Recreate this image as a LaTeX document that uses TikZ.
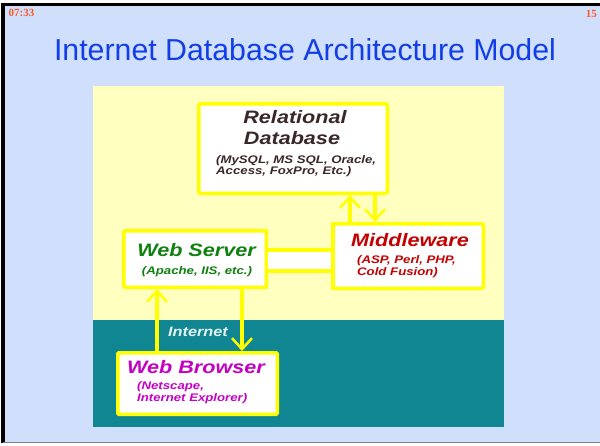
\documentclass[tikz,border=0pt]{standalone}
\usepackage{fontspec}
\setmainfont{Liberation Sans}
\newfontfamily\stampfont{Liberation Serif}
\newfontfamily\boxfont[FakeStretch=1.2]{Liberation Sans}
\usetikzlibrary{arrows.meta}

\definecolor{slidebg}{RGB}{208,224,252}
\definecolor{titleblue}{RGB}{18,62,232}
\definecolor{stamp}{RGB}{255,88,36}
\definecolor{panelyellow}{RGB}{255,255,192}
\definecolor{panelteal}{RGB}{16,134,146}
\definecolor{boxline}{RGB}{255,255,0}
\definecolor{dbtext}{RGB}{58,40,40}
\definecolor{wstext}{RGB}{16,128,16}
\definecolor{mwtext}{RGB}{196,0,0}
\definecolor{wbtext}{RGB}{196,0,196}
\definecolor{nettext}{RGB}{228,242,242}

\tikzset{
  box/.style={draw=boxline, line width=3.5pt, fill=white, inner sep=0pt, rounded corners=1pt},
  boxtitle/.style={font=\boxfont\fontsize{18}{20}\selectfont\bfseries\itshape, inner sep=0pt, anchor=base},
  boxsub/.style={font=\boxfont\fontsize{11}{12}\selectfont\bfseries\itshape, inner sep=0pt},
  link/.style={draw=boxline, line width=3.5pt,
    -{Straight Barb[length=11pt,width=20pt,line width=2.5pt]}},
  pipeline/.style={draw=boxline, line width=3.5pt}
}

\begin{document}
\begin{tikzpicture}[x=1pt,y=-1pt]
\useasboundingbox (0,0) rectangle (600,445);

% slide background and frame
\fill[white] (0,0) rectangle (600,445);
\fill[slidebg] (3,4) rectangle (600,443);
\draw[black, line width=3pt] (1,4.5) -- (600,4.5);
\draw[black, line width=4pt] (3,3) -- (3,443);
\draw[gray, line width=1pt] (3,442.5) -- (600,442.5);

% header stamps and title
\node (time) [font=\stampfont\fontsize{11}{12}\selectfont\bfseries, text=stamp,
  anchor=base west, inner sep=0pt] at (8.5,16.7) {07:33};
\node (page) [font=\stampfont\fontsize{11}{12}\selectfont\bfseries, text=stamp,
  anchor=base east, inner sep=0pt] at (597,17) {15};
\node (title) [font=\fontsize{30.3}{34}\selectfont, text=titleblue,
  anchor=base, inner sep=0pt] at (305,60) {Internet Database Architecture Model};

% diagram panel: application side and internet side
\fill[panelyellow] (93,86) rectangle (504,320);
\fill[panelteal] (93,320) rectangle (504,427);

% component boxes
\node (db) [box, minimum width=188.5pt, minimum height=89.5pt] at (293,148.5) {};
\node (mw) [box, minimum width=150.5pt, minimum height=64.5pt] at (408,256) {};
\node (ws) [box, minimum width=142.5pt, minimum height=56.5pt] at (195,259) {};
\node (wb) [box, minimum width=159.5pt, minimum height=61.5pt] at (197.5,383.5) {};

% pipe joining web server and middleware
\coordinate (pt) at (0,250);
\coordinate (pb) at (0,271);
\fill[white] (ws.east |- pt) rectangle (mw.west |- pb);
\draw[pipeline] (ws.east |- pt) -- (mw.west |- pt);
\draw[pipeline] (ws.east |- pb) -- (mw.west |- pb);
\draw[draw=boxline, line width=3.5pt] ([xshift=-1.75pt]ws.north east) -- ([xshift=-1.75pt]ws.south east);
\draw[draw=boxline, line width=3.5pt] ([xshift=1.75pt]mw.north west) -- ([xshift=1.75pt]mw.south west);

% box texts
\node (dbt1) [boxtitle, text=dbtext] at (295,123.3) {Relational};
\node (dbt2) [boxtitle, text=dbtext] at (292,144) {Database};
\node (dbs1) [boxsub, text=dbtext, anchor=base west] at (216,163.3) {(MySQL, MS SQL, Oracle,};
\node (dbs2) [boxsub, text=dbtext, anchor=base west] at (216,174) {Access, FoxPro, Etc.)};

\node (mwt) [boxtitle, text=mwtext] at (410,246.7) {Middleware};
\node (mws1) [boxsub, text=mwtext, anchor=base west] at (357,263.3) {(ASP, Perl, PHP,};
\node (mws2) [boxsub, text=mwtext, anchor=base west] at (357,275) {Cold Fusion)};

\node (wst) [boxtitle, text=wstext] at (196.5,256.7) {Web Server};
\node (wss) [boxsub, text=wstext, anchor=base] at (197,274) {(Apache, IIS, etc.)};

\node (wbt) [boxtitle, text=wbtext] at (196,373.3) {Web Browser};
\node (wbs1) [boxsub, text=wbtext, anchor=base west] at (137,389.3) {(Netscape,};
\node (wbs2) [boxsub, text=wbtext, anchor=base west] at (137,401.7) {Internet Explorer)};

\node (net) [font=\boxfont\fontsize{13.6}{15}\selectfont\bfseries\itshape, text=nettext,
  anchor=base, inner sep=0pt] at (198,336) {Internet};

% request / response connectors
\coordinate (a1) at (350,0);
\coordinate (a2) at (375,0);
\coordinate (a3) at (157,0);
\coordinate (a4) at (242,0);
\draw[link] (mw.north -| a1) -- (db.south -| a1);
\draw[link] (db.south -| a2) -- (mw.north -| a2);
\draw[link] (wb.north -| a3) -- (ws.south -| a3);
\draw[link] (ws.south -| a4) -- (wb.north -| a4);
\end{tikzpicture}
\end{document}
